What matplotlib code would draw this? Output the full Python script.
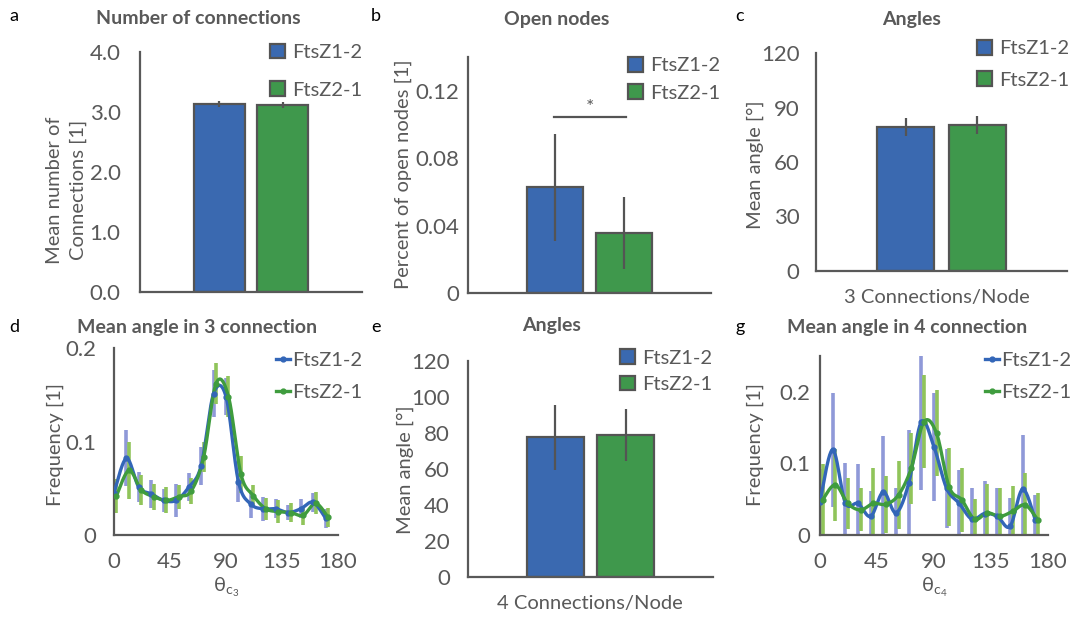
import numpy as np
import matplotlib
matplotlib.use("Agg")
import matplotlib.pyplot as plt
from matplotlib.patches import Patch
from matplotlib.lines import Line2D

plt.rcParams['font.family'] = ['Lato', 'DejaVu Sans']

# ---- data ----
strains = ["FtsZ1-2", "FtsZ2-1"]

conn_mean = [3.13, 3.12]
conn_err = [0.05, 0.05]

open_mean = [0.0626, 0.0357]
open_err = [0.032, 0.0215]

ang3_mean = [79.2, 80.2]
ang3_err = [5.0, 5.0]

ang4_mean = [77.6, 78.8]
ang4_err = [18.0, 14.5]

theta = [0, 10, 20, 30, 40, 50, 60, 70, 80, 90, 100, 110, 120, 130, 140, 150, 160, 170]

c3_blue = [0.045, 0.082, 0.051, 0.044, 0.037, 0.037, 0.051, 0.074, 0.151, 0.148,
           0.057, 0.033, 0.028, 0.028, 0.024, 0.028, 0.035, 0.018]
c3_blue_err = [0.015, 0.03, 0.016, 0.015, 0.012, 0.018, 0.015, 0.02, 0.025, 0.02,
               0.022, 0.015, 0.013, 0.01, 0.008, 0.01, 0.01, 0.01]
c3_green = [0.042, 0.069, 0.048, 0.041, 0.037, 0.041, 0.047, 0.083, 0.162, 0.148,
            0.065, 0.042, 0.028, 0.025, 0.024, 0.021, 0.034, 0.019]
c3_green_err = [0.018, 0.03, 0.016, 0.014, 0.014, 0.013, 0.014, 0.016, 0.022, 0.022,
                0.02, 0.012, 0.012, 0.012, 0.01, 0.01, 0.012, 0.01]

c4_blue = [0.0465, 0.119, 0.045, 0.044, 0.026, 0.060, 0.031, 0.072, 0.158, 0.123,
           0.065, 0.044, 0.022, 0.030, 0.026, 0.012, 0.064, 0.021]
c4_blue_err = [0.045, 0.08, 0.055, 0.055, 0.035, 0.078, 0.035, 0.075, 0.095, 0.075,
               0.055, 0.047, 0.043, 0.045, 0.04, 0.04, 0.075, 0.035]
c4_green = [0.049, 0.070, 0.044, 0.035, 0.044, 0.043, 0.056, 0.093, 0.158, 0.142,
            0.067, 0.049, 0.022, 0.031, 0.026, 0.033, 0.042, 0.021]
c4_green_err = [0.05, 0.05, 0.035, 0.03, 0.05, 0.04, 0.048, 0.05, 0.065, 0.06,
                0.055, 0.045, 0.028, 0.04, 0.04, 0.035, 0.045, 0.037]

# ---- style ----
BLUE = '#3a69b0'
GREEN = '#3f984c'
LBLUE = '#3366b8'
LGREEN = '#3f9c3e'
EBLUE = '#8f99d8'
EGREEN = '#90c45a'
GRAY = '#595959'
EDGE = '#545454'
TICK_FS = 16
LAB_FS = 14.5
TITLE_FS = 14

W, H = 1077, 617
fig = plt.figure(figsize=(W / 100, H / 100), dpi=100)


def box(left, top, right, bottom):
    # pixel box -> figure fraction
    return [left / W, 1 - bottom / H, (right - left) / W, (bottom - top) / H]


def ftext(x, y, s, **kw):
    kw.setdefault('color', GRAY)
    kw.setdefault('ha', 'center')
    kw.setdefault('va', 'center')
    fig.text(x / W, 1 - y / H, s, **kw)


def style_axes(ax, ypad):
    for side in ['top', 'right']:
        ax.spines[side].set_visible(False)
    for side in ['left', 'bottom']:
        ax.spines[side].set_color(GRAY)
        ax.spines[side].set_linewidth(1.6)
    ax.tick_params(length=0, labelsize=TICK_FS, labelcolor=GRAY)
    ax.tick_params(axis='y', pad=ypad)


def bar_panel(ax, means, errs, ylim, yticks, ylabels, ypad, leg_anchor, spacing):
    xs = [-0.143, 0.143]
    ax.bar(xs, means, width=0.23, color=[BLUE, GREEN], edgecolor=EDGE,
           linewidth=1.6, yerr=errs, error_kw=dict(ecolor=EDGE, elinewidth=1.6, capsize=0),
           zorder=2)
    ax.set_xlim(-0.5, 0.5)
    ax.set_ylim(*ylim)
    ax.set_yticks(yticks)
    ax.set_yticklabels(ylabels)
    ax.set_xticks([])
    style_axes(ax, ypad)
    handles = [Patch(facecolor=BLUE, edgecolor=EDGE, linewidth=1.6, label=strains[0]),
               Patch(facecolor=GREEN, edgecolor=EDGE, linewidth=1.6, label=strains[1])]
    ax.legend(handles=handles, loc='upper left', bbox_to_anchor=leg_anchor, frameon=False,
              fontsize=LAB_FS, labelcolor=GRAY, handlelength=0.75, handleheight=0.75,
              handletextpad=0.35, borderpad=0, borderaxespad=0, labelspacing=spacing)


def bezier_curve(x, y, n=24):
    # Excel-like smoothed line through the points
    x = np.asarray(x, float)
    y = np.asarray(y, float)
    px = np.concatenate([[x[0]], x, [x[-1]]])
    py = np.concatenate([[y[0]], y, [y[-1]]])
    t = np.linspace(0, 1, n)[:, None]
    out = []
    for i in range(1, len(px) - 2):
        p0 = np.array([px[i - 1], py[i - 1]])
        p1 = np.array([px[i], py[i]])
        p2 = np.array([px[i + 1], py[i + 1]])
        p3 = np.array([px[i + 2], py[i + 2]])
        c1 = p1 + (p2 - p0) / 6
        c2 = p2 - (p3 - p1) / 6
        seg = (1 - t) ** 3 * p1 + 3 * (1 - t) ** 2 * t * c1 + 3 * (1 - t) * t ** 2 * c2 + t ** 3 * p2
        out.append(seg)
    pts = np.vstack(out)
    return pts[:, 0], pts[:, 1]


def line_panel(ax, yb, eb, yg, eg, ylim, ypad, xsub, leg_y):
    xb = np.array(theta, float)
    xg = xb + 2
    ax.errorbar(xb, yb, yerr=eb, fmt='none', ecolor=EBLUE, elinewidth=2.6, capsize=0, zorder=1)
    ax.errorbar(xg, yg, yerr=eg, fmt='none', ecolor=EGREEN, elinewidth=2.6, capsize=0, zorder=1)
    sx, sy = bezier_curve(xb, yb)
    ax.plot(sx, sy, color=LBLUE, lw=2.4, zorder=3)
    ax.plot(xb, yb, 'o', color=LBLUE, ms=3.5, zorder=4)
    sx, sy = bezier_curve(xg, yg)
    ax.plot(sx, sy, color=LGREEN, lw=2.4, zorder=3)
    ax.plot(xg, yg, 'o', color=LGREEN, ms=3.5, zorder=4)
    ax.set_xlim(0, 180)
    ax.set_ylim(*ylim)
    ax.set_xticks([0, 45, 90, 135, 180])
    ax.set_yticks([0, 0.1, 0.2])
    ax.set_yticklabels(['0', '0.1', '0.2'])
    style_axes(ax, ypad)
    ax.tick_params(axis='x', pad=12)
    ax.set_xlabel(r'θ$_{\mathregular{c_' + xsub + '}}$', fontsize=LAB_FS, color=GRAY, labelpad=3)
    handles = [Line2D([], [], color=LBLUE, lw=2.4, marker='o', ms=3.5, label=strains[0]),
               Line2D([], [], color=LGREEN, lw=2.4, marker='o', ms=3.5, label=strains[1])]
    ax.legend(handles=handles, loc='upper left', bbox_to_anchor=(0.725, leg_y), frameon=False,
              fontsize=LAB_FS, labelcolor=GRAY, handlelength=0.7, handletextpad=0.1,
              borderpad=0, borderaxespad=0, labelspacing=0.75)


# a
ax_a = fig.add_axes(box(140, 52, 362, 292))
bar_panel(ax_a, conn_mean, conn_err, (0, 4), [0, 1, 2, 3, 4],
          ['0.0', '1.0', '2.0', '3.0', '4.0'], 14, (0.585, 1.035), 1.0)

# b
ax_b = fig.add_axes(box(468, 57, 711, 293))
bar_panel(ax_b, open_mean, open_err, (0, 0.14), [0, 0.04, 0.08, 0.12],
          ['0', '0.04', '0.08', '0.12'], 6, (0.66, 1.0), 0.5)
ax_b.plot([-0.146, 0.15], [0.1046, 0.1046], color=EDGE, lw=1.6)
ax_b.text(0.0, 0.1052, '*', ha='center', va='bottom', fontsize=14, color=GRAY)

# c
ax_c = fig.add_axes(box(816, 53, 1067, 271))
bar_panel(ax_c, ang3_mean, ang3_err, (0, 120), [0, 30, 60, 90, 120],
          ['0', '30', '60', '90', '120'], 12, (0.64, 1.06), 0.7)

# e
ax_e = fig.add_axes(box(468, 361, 713, 577))
bar_panel(ax_e, ang4_mean, ang4_err, (0, 120), [0, 20, 40, 60, 80, 100, 120],
          ['0', '20', '40', '60', '80', '100', '120'], 13, (0.62, 1.055), 0.45)

# d
ax_d = fig.add_axes(box(114, 348, 338, 535))
line_panel(ax_d, c3_blue, c3_blue_err, c3_green, c3_green_err, (0, 0.2), 13, '3', 0.98)

# g
ax_g = fig.add_axes(box(820, 356, 1048, 535))
line_panel(ax_g, c4_blue, c4_blue_err, c4_green, c4_green_err, (0, 0.25), 7, '4', 1.022)

# y labels
ftext(55, 190, 'Mean number of', rotation=90, fontsize=LAB_FS)
ftext(78, 190, 'Connections [1]', rotation=90, fontsize=LAB_FS)
ftext(403, 174, 'Percent of open nodes [1]', rotation=90, fontsize=LAB_FS)
ftext(755, 165, 'Mean angle [°]', rotation=90, fontsize=LAB_FS)
ftext(55, 444, 'Frequency [1]', rotation=90, fontsize=LAB_FS)
ftext(405, 470, 'Mean angle [°]', rotation=90, fontsize=LAB_FS)
ftext(755, 445, 'Frequency [1]', rotation=90, fontsize=LAB_FS)

# x labels of bar panels
ftext(937, 298, '3 Connections/Node', fontsize=LAB_FS)
ftext(590, 604, '4 Connections/Node', fontsize=LAB_FS)

# titles
ftext(198, 18, 'Number of connections', fontsize=TITLE_FS, fontweight='bold')
ftext(557, 20, 'Open nodes', fontsize=TITLE_FS, fontweight='bold')
ftext(912, 20, 'Angles', fontsize=TITLE_FS, fontweight='bold')
ftext(197, 327, 'Mean angle in 3 connection', fontsize=TITLE_FS, fontweight='bold')
ftext(552, 325, 'Angles', fontsize=TITLE_FS, fontweight='bold')
ftext(907, 328, 'Mean angle in 4 connection', fontsize=TITLE_FS, fontweight='bold')

# panel letters
for x, y, s in [(14, 16, 'a'), (376, 16, 'b'), (740, 16, 'c'),
                (14, 327, 'd'), (376, 327, 'e'), (740, 327, 'g')]:
    ftext(x, y, s, fontsize=13, color='black')

fig.savefig('out.png', dpi=100)
